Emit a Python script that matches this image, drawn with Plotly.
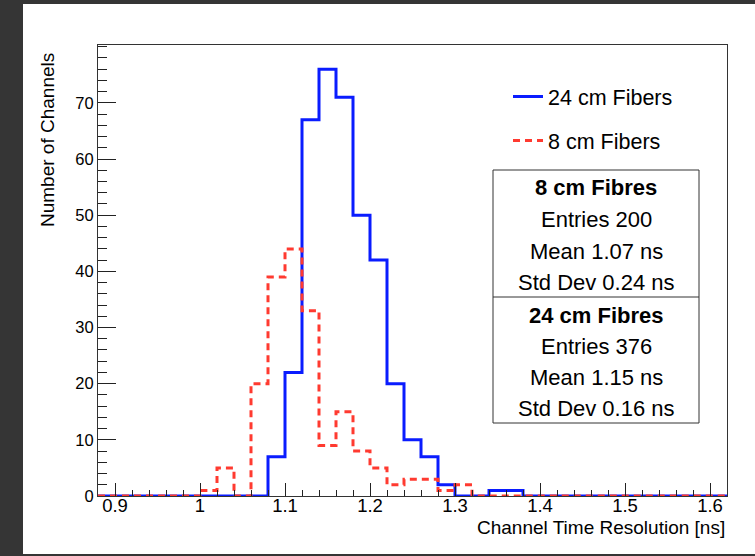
import plotly.graph_objects as go

# ---------------- data ----------------
bin_start = 0.88
bin_width = 0.02
n_bins = 37
bin_edges = [round(bin_start + i * bin_width, 2) for i in range(n_bins + 1)]

counts_24cm = [0, 0, 0, 0, 0, 0, 0, 0, 0, 0,
               7, 22, 67, 76, 71, 50, 42, 20, 10, 7,
               2, 0, 0, 1, 1, 0, 0, 0, 0, 0,
               0, 0, 0, 0, 0, 0, 0]
counts_8cm = [0, 0, 0, 0, 0, 0, 1, 5, 0, 20,
              39, 44, 33, 9, 15, 8, 5, 2, 3, 3,
              1, 2, 0, 0, 0, 0, 0, 0, 0, 0,
              0, 0, 0, 0, 0, 0, 0]

series_names = ["24 cm Fibers", "8 cm Fibers"]

x_tickvals = [0.9, 1.0, 1.1, 1.2, 1.3, 1.4, 1.5, 1.6]
x_ticktext = ["0.9", "1", "1.1", "1.2", "1.3", "1.4", "1.5", "1.6"]
y_tickvals = [0, 10, 20, 30, 40, 50, 60, 70]

stats_8cm = ["<b>8 cm Fibres</b>", "Entries 200", "Mean 1.07 ns", "Std Dev 0.24 ns"]
stats_24cm = ["<b>24 cm Fibres</b>", "Entries 376", "Mean 1.15 ns", "Std Dev 0.16 ns"]

x_title = "Channel Time Resolution [ns]"
y_title = "Number of Channels"

# ---------------- figure ----------------
W, H = 755, 556
ML, MR, MT, MB = 98, 28, 45, 60
PW, PH = W - ML - MR, H - MT - MB


def px(x):
    return (x - ML) / PW


def py(y):
    return (H - MB - y) / PH


FONT = "Liberation Sans, Arial, Helvetica, sans-serif"
BLUE = "#0a1cff"
RED = "#ff3a30"


def step(counts):
    return bin_edges, list(counts) + [counts[-1]]


fig = go.Figure()
xs, ys = step(counts_24cm)
fig.add_trace(go.Scatter(x=xs, y=ys, mode="lines", line=dict(shape="hv", color=BLUE, width=3),
                         name=series_names[0], legendgroup="a", legendrank=1))
xs, ys = step(counts_8cm)
fig.add_trace(go.Scatter(x=xs, y=ys, mode="lines",
                         line=dict(shape="hv", color=RED, width=3, dash="7px,5px"),
                         name=series_names[1], legendgroup="b", legendrank=2))

shapes = []
# dark screenshot surround
DARK = "#353535"
shapes.append(dict(type="rect", xref="paper", yref="paper", x0=px(0), x1=px(23), y0=py(H), y1=py(0),
                   fillcolor=DARK, line=dict(width=0), layer="above"))
shapes.append(dict(type="rect", xref="paper", yref="paper", x0=px(0), x1=px(W), y0=py(4), y1=py(0),
                   fillcolor=DARK, line=dict(width=0), layer="above"))
shapes.append(dict(type="rect", xref="paper", yref="paper", x0=px(0), x1=px(W), y0=py(H), y1=py(554),
                   fillcolor=DARK, line=dict(width=0), layer="above"))
# stats box
shapes.append(dict(type="rect", xref="paper", yref="paper", x0=px(493), x1=px(699), y0=py(423), y1=py(170),
                   fillcolor="white", line=dict(color="#333333", width=1), layer="above"))
shapes.append(dict(type="line", xref="paper", yref="paper", x0=px(493), x1=px(699), y0=py(297), y1=py(297),
                   line=dict(color="#333333", width=1), layer="above"))

annotations = []
stat_y = [188, 219, 251, 282, 315, 346, 377, 408]
for txt, yy in zip(stats_8cm + stats_24cm, stat_y):
    annotations.append(dict(text=txt, xref="paper", yref="paper", x=px(596), y=py(yy),
                            xanchor="center", yanchor="middle", showarrow=False,
                            font=dict(family=FONT, size=22, color="black")))
annotations.append(dict(text=x_title, xref="paper", yref="paper", x=1, y=py(527),
                        xanchor="right", yanchor="middle", showarrow=False,
                        font=dict(family=FONT, size=19, color="black")))
annotations.append(dict(text=y_title, xref="paper", yref="paper", x=px(47), y=py(51),
                        xanchor="center", yanchor="top", showarrow=False, textangle=-90,
                        font=dict(family=FONT, size=19, color="black")))

fig.update_layout(
    width=W, height=H,
    margin=dict(l=ML, r=MR, t=MT, b=MB, pad=0),
    paper_bgcolor="white", plot_bgcolor="white",
    font=dict(family=FONT, color="black"),
    shapes=shapes, annotations=annotations,
    showlegend=True,
    legend=dict(x=px(508), y=py(76), xanchor="left", yanchor="top",
                bgcolor="rgba(0,0,0,0)", borderwidth=0, tracegroupgap=13,
                font=dict(family=FONT, size=21.5, color="black")),
)
fig.update_xaxes(range=[0.88, 1.62], tickvals=x_tickvals, ticktext=x_ticktext,
                 ticks="inside", ticklen=13, tickwidth=1, tickcolor="#222222",
                 ticklabelstandoff=-7,
                 minor=dict(dtick=0.02, tick0=0.88, ticks="inside", ticklen=6, tickcolor="#222222", tickwidth=1),
                 showline=True, mirror=True, linecolor="#333333", linewidth=1,
                 showgrid=False, zeroline=False, tickfont=dict(size=18.5, family=FONT))
fig.update_yaxes(range=[0, 80.3], tickvals=y_tickvals,
                 ticks="inside", ticklen=18, tickwidth=1, tickcolor="#222222",
                 minor=dict(dtick=2, tick0=0, ticks="inside", ticklen=9, tickcolor="#222222", tickwidth=1),
                 showline=True, mirror=True, linecolor="#333333", linewidth=1,
                 showgrid=False, zeroline=False, tickfont=dict(size=16.5, family=FONT))

fig.write_html("out.html")
